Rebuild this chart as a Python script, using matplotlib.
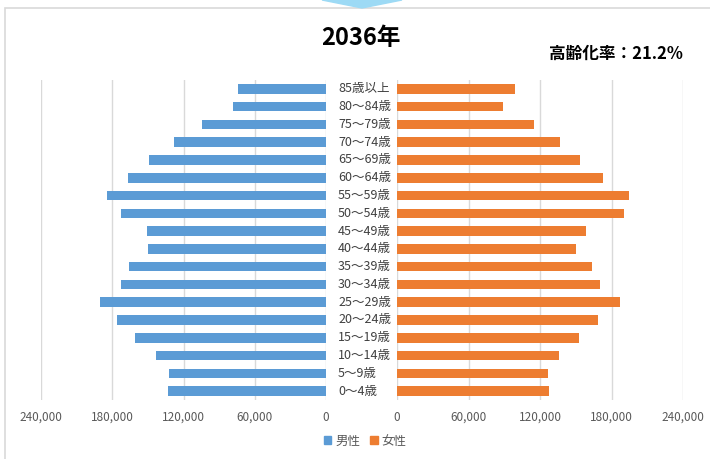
import matplotlib
matplotlib.use("Agg")
import matplotlib.pyplot as plt
import matplotlib.transforms as mtransforms
from matplotlib.patches import Patch, Polygon, Rectangle
from matplotlib.ticker import FuncFormatter
import numpy as np

plt.rcParams['font.family'] = ['Noto Sans CJK JP', 'DejaVu Sans']

# 年齢階級（上から順）
age_groups = ["85歳以上", "80〜84歳", "75〜79歳", "70〜74歳", "65〜69歳", "60〜64歳",
              "55〜59歳", "50〜54歳", "45〜49歳", "40〜44歳", "35〜39歳", "30〜34歳",
              "25〜29歳", "20〜24歳", "15〜19歳", "10〜14歳", "5〜9歳", "0〜4歳"]
male = [74000, 78300, 104600, 127900, 148700, 166600,
        184300, 172500, 150400, 149800, 165800, 172500,
        190200, 175900, 160700, 143100, 132400, 133000]
female = [99000, 89300, 114700, 136500, 153300, 172900,
          195000, 190500, 158600, 150500, 163600, 170700,
          187100, 169000, 152700, 135900, 126700, 127300]
ticks = [0, 60000, 120000, 180000, 240000]
title = "2036年"
aging_rate = "高齢化率：21.2%"

W, H = 710, 459
BLUE = "#5B9BD5"
ORANGE = "#ED7D31"
GRID = "#D9D9D9"
TXT = "#595959"

fig = plt.figure(figsize=(W / 100, H / 100), dpi=100)
fig.patch.set_facecolor("white")


def px(x0, y0, x1, y1):
    return [x0 / W, 1 - y1 / H, (x1 - x0) / W, (y1 - y0) / H]


ax_l = fig.add_axes(px(41, 80, 326, 400))
ax_r = fig.add_axes(px(397, 80, 683, 400))

pos = np.arange(len(age_groups))[::-1]
ax_l.barh(pos, male, height=0.54, color=BLUE, zorder=3)
ax_r.barh(pos, female, height=0.54, color=ORANGE, zorder=3)

fmt = FuncFormatter(lambda v, _: f"{int(v):,}")
for ax in (ax_l, ax_r):
    ax.set_ylim(-0.5, len(age_groups) - 0.5)
    ax.set_yticks([])
    ax.set_xticks(ticks)
    ax.xaxis.set_major_formatter(fmt)
    ax.tick_params(axis="x", length=0, labelsize=8.5, labelcolor=TXT, pad=8)
    ax.grid(axis="x", color=GRID, lw=1, zorder=0)
    for s in ax.spines.values():
        s.set_visible(False)
ax_l.set_xlim(240000, 0)
ax_r.set_xlim(0, 240000)

# 年齢階級ラベル（中央の列）
trans = mtransforms.blended_transform_factory(fig.transFigure, ax_r.transData)
for p, lab in zip(pos, age_groups):
    fig.text(338 / W, p, lab, transform=trans, ha="left", va="center",
             fontsize=9, color="#404040")

fig.text(361 / W, 1 - 38 / H, title, ha="center", va="center",
         fontsize=17, fontweight="bold", color="black")
fig.text(683 / W, 1 - 54 / H, aging_rate, ha="right", va="center",
         fontsize=12, fontweight="bold", color="black")

handles = [Patch(color=BLUE, label="男性"), Patch(color=ORANGE, label="女性")]
fig.legend(handles=handles, loc="center", bbox_to_anchor=(365 / W, 1 - 441 / H),
           ncol=2, frameon=False, fontsize=9, handlelength=0.6, handleheight=0.6,
           handletextpad=0.3, columnspacing=0.8, labelcolor=TXT)

# 外枠と上部の矢印
fig.patches.append(Rectangle((5 / W, -0.1), 2, 1.1 - 8 / H, fill=False,
                             ec=GRID, lw=1.2, transform=fig.transFigure))
fig.patches.append(Polygon([(322 / W, 1.0), (402 / W, 1.0), (362 / W, 1 - 8 / H)],
                           closed=True, color="#9DDAF5", transform=fig.transFigure))

fig.savefig("out.png", dpi=100)
